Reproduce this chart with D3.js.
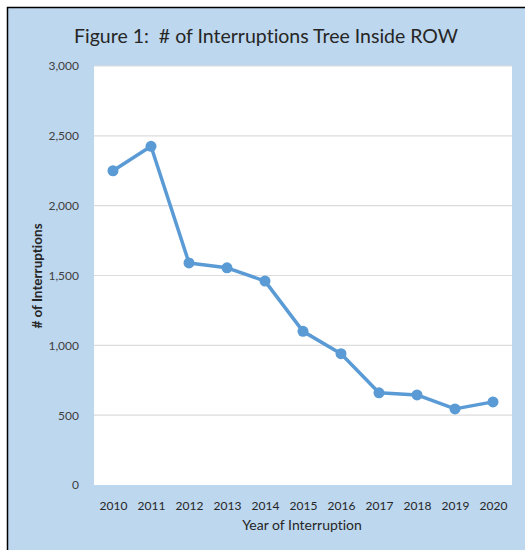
<!DOCTYPE html>
<html>
<head>
<meta charset="utf-8">
<script src="https://cdn.jsdelivr.net/npm/d3@7"></script>
<style>
  body { margin: 0; background: #fff; }
  text { font-family: Lato, "Open Sans", sans-serif; font-variant-ligatures: none; }
</style>
</head>
<body>
<svg id="chart" width="525" height="550"></svg>
<script>
var years = ["2010", "2011", "2012", "2013", "2014", "2015", "2016", "2017", "2018", "2019", "2020"];
var interruptions = [2250, 2425, 1590, 1555, 1460, 1100, 940, 660, 645, 545, 595];
var yTicks = [0, 500, 1000, 1500, 2000, 2500, 3000];

var svg = d3.select("#chart");
var plot = { left: 94, right: 512, top: 66, bottom: 485 };

// outer frame
svg.append("rect")
    .attr("x", 7.5).attr("y", 7.5)
    .attr("width", 530).attr("height", 560)
    .attr("fill", "#bdd7ee")
    .attr("stroke", "#000").attr("stroke-width", 1.5);

svg.append("rect")
    .attr("x", plot.left).attr("y", plot.top)
    .attr("width", plot.right - plot.left).attr("height", plot.bottom - plot.top)
    .attr("fill", "#fff");

var x = d3.scalePoint().domain(years).range([plot.left, plot.right]).padding(0.5);
var y = d3.scaleLinear().domain([0, 3000]).range([plot.bottom, plot.top]);

// gridlines
svg.append("g").selectAll("line")
    .data(yTicks.filter(function (d) { return d > 0; }))
    .enter().append("line")
    .attr("x1", plot.left).attr("x2", plot.right)
    .attr("y1", function (d) { return y(d); })
    .attr("y2", function (d) { return y(d); })
    .attr("stroke", "#dcdcdc").attr("stroke-width", 1.2);

var yAxis = svg.append("g")
    .attr("transform", "translate(" + (plot.left - 12) + ",0)")
    .call(d3.axisLeft(y).tickValues(yTicks).tickSize(0).tickFormat(d3.format(",")));
yAxis.select(".domain").remove();
yAxis.selectAll("text")
    .attr("font-size", 12).attr("fill", "#404040")
    .style("font-family", "Lato, sans-serif");

var xAxis = svg.append("g")
    .attr("transform", "translate(0," + (plot.bottom + 13) + ")")
    .call(d3.axisBottom(x).tickSize(0));
xAxis.select(".domain").remove();
xAxis.selectAll("text")
    .attr("font-size", 12).attr("fill", "#262626")
    .style("font-family", "Lato, sans-serif");

var line = d3.line()
    .x(function (d, i) { return x(years[i]); })
    .y(function (d) { return y(d); });

svg.append("path")
    .datum(interruptions)
    .attr("d", line)
    .attr("fill", "none")
    .attr("stroke", "#5b9bd5")
    .attr("stroke-width", 3.5)
    .attr("stroke-linejoin", "round");

svg.append("g").selectAll("circle")
    .data(interruptions)
    .enter().append("circle")
    .attr("cx", function (d, i) { return x(years[i]); })
    .attr("cy", function (d) { return y(d); })
    .attr("r", 5.5)
    .attr("fill", "#5b9bd5");

svg.append("text")
    .attr("x", 266).attr("y", 43)
    .attr("text-anchor", "middle")
    .attr("font-size", 19.5).attr("fill", "#262626")
    .text("Figure 1:  # of Interruptions Tree Inside ROW")
    .style("white-space", "pre");

svg.append("text")
    .attr("x", 302).attr("y", 530)
    .attr("text-anchor", "middle")
    .attr("font-size", 14).attr("fill", "#262626")
    .text("Year of Interruption");

svg.append("text")
    .attr("transform", "translate(42,276) rotate(-90)")
    .attr("text-anchor", "middle")
    .attr("font-size", 13.5).attr("font-weight", "bold").attr("fill", "#262626")
    .text("# of Interruptions");
</script>
</body>
</html>
